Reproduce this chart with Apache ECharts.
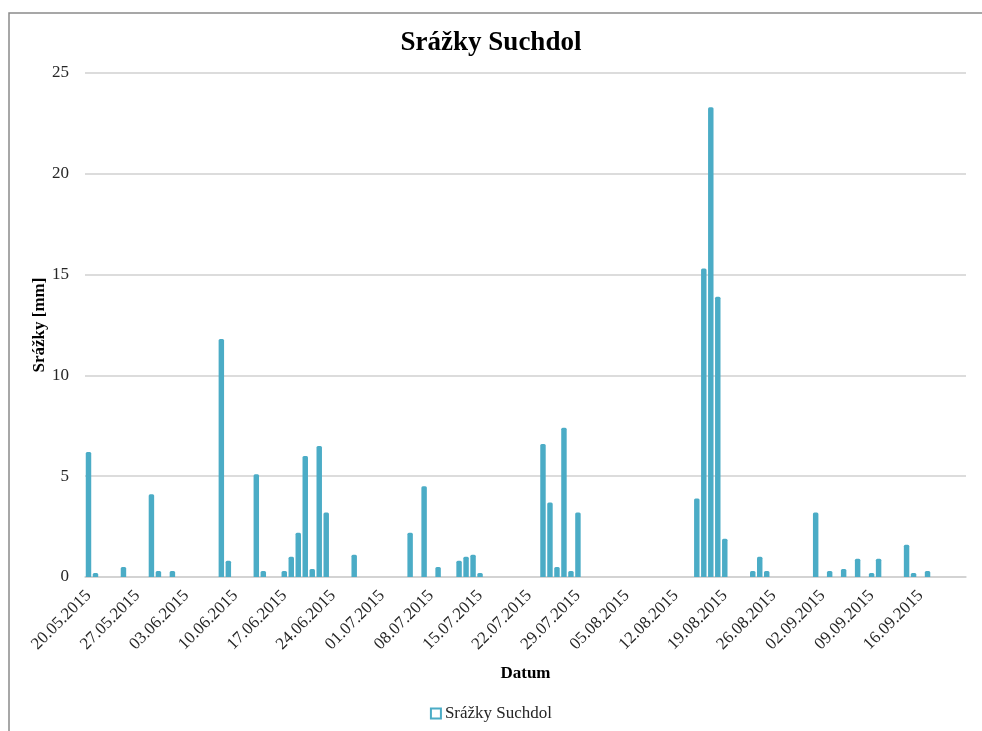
<!DOCTYPE html>
<html>
<head>
<meta charset="utf-8">
<script src="https://cdn.jsdelivr.net/npm/echarts@6/dist/echarts.min.js"></script>
<style>
html,body{margin:0;padding:0;background:#fff;}
#c{width:982px;height:731px;}
</style>
</head>
<body>
<div id="c"></div>
<script>
// Daily precipitation, first day 20.05.2015 (one value per day, weeks per row)
const startDate = [2015, 5, 20];
const dayCount = 126;
const rainValues = [
  6.2, 0.2, 0, 0, 0, 0.5, 0,
  0, 0, 4.1, 0.3, 0, 0.3, 0,
  0, 0, 0, 0, 0, 11.8, 0.8,
  0, 0, 0, 5.1, 0.3, 0, 0,
  0.3, 1.0, 2.2, 6.0, 0.4, 6.5, 3.2,
  0, 0, 0, 1.1, 0, 0, 0,
  0, 0, 0, 0, 2.2, 0, 4.5,
  0, 0.5, 0, 0, 0.8, 1.0, 1.1,
  0.2, 0, 0, 0, 0, 0, 0,
  0, 0, 6.6, 3.7, 0.5, 7.4, 0.3,
  3.2, 0, 0, 0, 0, 0, 0,
  0, 0, 0, 0, 0, 0, 0,
  0, 0, 0, 3.9, 15.3, 23.3, 13.9,
  1.9, 0, 0, 0, 0.3, 1.0, 0.3,
  0, 0, 0, 0, 0, 0, 3.2,
  0, 0.3, 0, 0.4, 0, 0.9, 0,
  0.2, 0.9, 0, 0, 0, 1.6, 0.2,
  0, 0.3, 0, 0, 0, 0, 0
];
const yTicks = [0, 5, 10, 15, 20, 25];
const seriesName = 'Srážky Suchdol';

function pad(n){ return (n < 10 ? '0' : '') + n; }
const categories = [];
for (let i = 0; i < dayCount; i++) {
  const d = new Date(Date.UTC(startDate[0], startDate[1] - 1, startDate[2] + i));
  categories.push(pad(d.getUTCDate()) + '.' + pad(d.getUTCMonth() + 1) + '.' + d.getUTCFullYear());
}

const FONT = '"Liberation Serif", "DejaVu Serif", serif';
const chart = echarts.init(document.getElementById('c'));
chart.setOption({
  animation: false,
  backgroundColor: '#fff',
  graphic: [{
    type: 'rect',
    shape: { x: 9, y: 13, width: 990, height: 740 },
    style: { fill: 'none', stroke: '#8a8a8a', lineWidth: 1.5 },
    silent: true
  }],
  title: {
    text: 'Srážky Suchdol',
    left: 'center',
    top: 25,
    textStyle: { fontFamily: FONT, fontSize: 27, fontWeight: 'bold', color: '#000' }
  },
  legend: {
    bottom: 4,
    left: 'center',
    icon: 'rect',
    itemWidth: 10,
    itemHeight: 10,
    itemGap: 4,
    itemStyle: { color: '#ffffff', borderColor: '#4BACC6', borderWidth: 2 },
    textStyle: { fontFamily: FONT, fontSize: 17, color: '#262626', padding: [0, 0, 0, -1] },
    data: [seriesName]
  },
  grid: { left: 85, right: 16, top: 73, bottom: 154, containLabel: false },
  xAxis: {
    type: 'category',
    data: categories,
    name: 'Datum',
    nameLocation: 'middle',
    nameGap: 88,
    nameMoveOverlap: false,
    nameTextStyle: { fontFamily: FONT, fontSize: 17, fontWeight: 'bold', color: '#000' },
    axisLine: { lineStyle: { color: '#d0d0d0', width: 1.5 } },
    axisTick: { show: false },
    axisLabel: {
      interval: 6,
      rotate: 45,
      margin: 16,
      fontFamily: FONT,
      fontSize: 17,
      color: '#262626'
    }
  },
  yAxis: {
    type: 'value',
    min: yTicks[0],
    max: yTicks[yTicks.length - 1],
    interval: 5,
    name: 'Srážky [mm]',
    nameLocation: 'middle',
    nameGap: 37,
    nameMoveOverlap: false,
    nameTextStyle: { fontFamily: FONT, fontSize: 17, fontWeight: 'bold', color: '#000' },
    axisLine: { show: false },
    axisTick: { show: false },
    axisLabel: { margin: 16, fontFamily: FONT, fontSize: 17, color: '#262626' },
    splitLine: { lineStyle: { color: '#d0d0d0', width: 1.5 } }
  },
  series: [{
    name: seriesName,
    type: 'bar',
    data: rainValues,
    barCategoryGap: '22%',
    itemStyle: { color: '#4BACC6', borderRadius: [1.5, 1.5, 0, 0] }
  }]
});
</script>
</body>
</html>
